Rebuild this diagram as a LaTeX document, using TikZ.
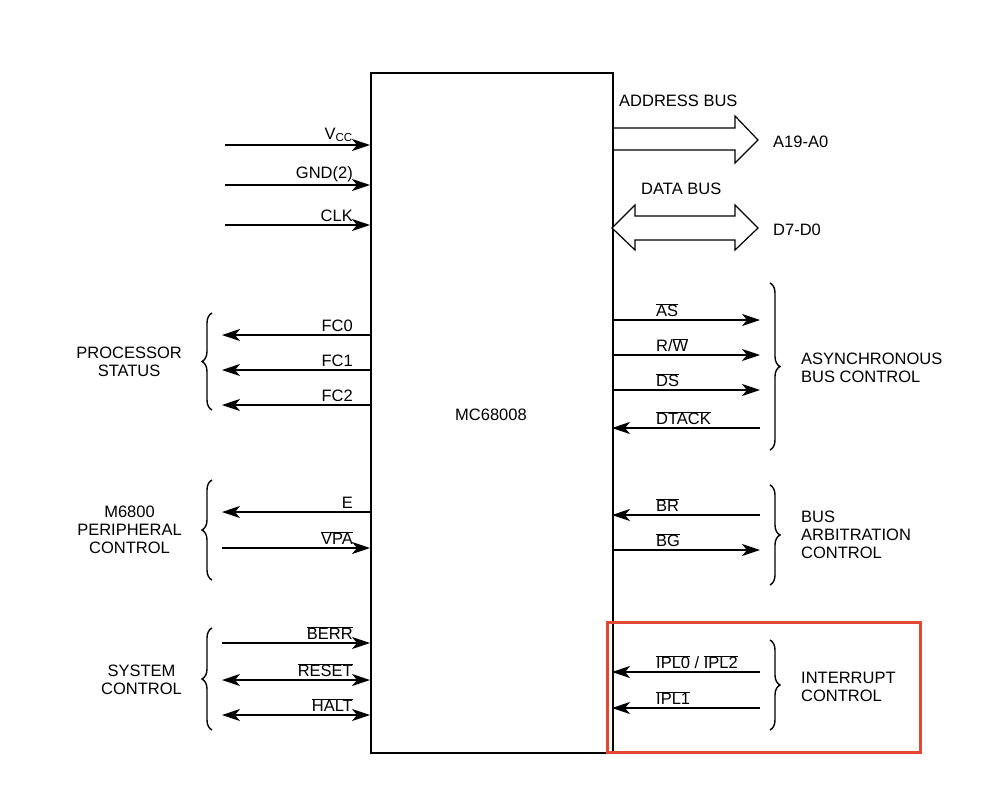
\documentclass[tikz,border=0pt]{standalone}
\usepackage{fontspec}
\setmainfont{Liberation Sans}
\usetikzlibrary{arrows.meta,decorations.pathreplacing}
\newcommand{\ovl}[1]{$\overline{\mbox{#1}}$}
\begin{document}
\begin{tikzpicture}[x=1pt,y=-1pt,
  every node/.style={font=\fontsize{16.5}{18}\selectfont,inner sep=1pt},
  tip/.tip={Stealth[length=18pt,width=12pt,inset=5pt]},
  sig/.style={line width=1.1pt,-tip},
  bsig/.style={line width=1.1pt,tip-tip},
  brL/.style={decorate,decoration={brace,amplitude=10pt},line width=1.4pt},
  lab/.style={align=center,font=\fontsize{16.5}{18}\selectfont}]
\useasboundingbox (0,0) rectangle (996,790);
\node[draw,line width=1.8pt,minimum width=242pt,minimum height=680pt,anchor=north west] (chip) at (370,72) {};
\node at (491,415) {MC68008};
% left inputs
\foreach \y/\t in {145/V\textsubscript{CC},185/GND(2),225/CLK}{
  \coordinate (a) at (225,\y); \coordinate (b) at (370,\y);
  \draw[sig] (a) -- (b); \node[anchor=south east] at (354,\y-2) {\t};}
% processor status
\foreach \y/\t in {335/FC0,370/FC1,405/FC2}{
  \coordinate (a) at (370,\y); \coordinate (b) at (222,\y);
  \draw[sig] (a) -- (b); \node[anchor=south east] at (354,\y-2) {\t};}
\coordinate (p1) at (212,410); \coordinate (p2) at (212,313);
\draw[brL] (p1) -- (p2);
\node[lab,anchor=east] at (183,362) {PROCESSOR\\STATUS};
% M6800
\coordinate (e1) at (370,512); \coordinate (e2) at (222,512);
\draw[sig] (e1) -- (e2); \node[anchor=south east] at (354,510) {E};
\coordinate (v1) at (222,548); \coordinate (v2) at (370,548);
\draw[sig] (v1) -- (v2); \node[anchor=south east] at (354,546) {\ovl{VPA}};
\coordinate (m1) at (212,580); \coordinate (m2) at (212,480);
\draw[brL] (m1) -- (m2);
\node[lab,anchor=east] at (183,530) {M6800\\PERIPHERAL\\CONTROL};
% system control
\coordinate (s1) at (222,643); \coordinate (s2) at (370,643);
\draw[sig] (s1) -- (s2); \node[anchor=south east] at (354,641) {\ovl{BERR}};
\foreach \y/\t in {680/RESET,715/HALT}{
  \coordinate (a) at (222,\y); \coordinate (b) at (370,\y);
  \draw[bsig] (a) -- (b); \node[anchor=south east] at (354,\y-2) {\ovl{\t}};}
\coordinate (q1) at (212,730); \coordinate (q2) at (212,628);
\draw[brL] (q1) -- (q2);
\node[lab,anchor=east] at (183,680) {SYSTEM\\CONTROL};
% address bus
\draw[line width=1.2pt] (612,128) -- (735,128) -- (735,116) -- (758,140) -- (735,163) -- (735,150) -- (612,150);
\node[anchor=south west] at (618,108) {ADDRESS BUS};
\node[anchor=west] (ab) at (772,142) {A19-A0};
% data bus
\draw[line width=1.2pt,fill=white] (612,228) -- (635,205) -- (635,216) -- (735,216) -- (735,205) -- (758,228) -- (735,250) -- (735,240) -- (635,240) -- (635,250) -- cycle;
\node[anchor=south west] at (640,196) {DATA BUS};
\node[anchor=west] (db) at (772,230) {D7-D0};
% async
\foreach \y in {320,355,390}{
  \coordinate (a) at (612,\y); \coordinate (b) at (760,\y);
  \draw[sig] (a) -- (b);}
\node[anchor=south west] at (655,318) {\ovl{AS}};
\node[anchor=south west] at (655,353) {R/\ovl{W}};
\node[anchor=south west] at (655,388) {\ovl{DS}};
\coordinate (d1) at (760,428); \coordinate (d2) at (612,428);
\draw[sig] (d1) -- (d2); \node[anchor=south west] at (655,426) {\ovl{DTACK}};
\coordinate (r1) at (770,283); \coordinate (r2) at (770,450);
\draw[brL] (r1) -- (r2);
\node[lab,anchor=west,align=left] at (800,368) {ASYNCHRONOUS\\BUS CONTROL};
% bus arbitration
\coordinate (b1) at (760,515); \coordinate (b2) at (612,515);
\draw[sig] (b1) -- (b2); \node[anchor=south west] at (655,513) {\ovl{BR}};
\coordinate (g1) at (612,550); \coordinate (g2) at (760,550);
\draw[sig] (g1) -- (g2); \node[anchor=south west] at (655,548) {\ovl{BG}};
\coordinate (t1) at (770,485); \coordinate (t2) at (770,585);
\draw[brL] (t1) -- (t2);
\node[lab,anchor=west,align=left] at (800,535) {BUS\\ARBITRATION\\CONTROL};
% interrupt
\coordinate (i1) at (760,672); \coordinate (i2) at (612,672);
\draw[sig] (i1) -- (i2); \node[anchor=south west] at (655,670) {\ovl{IPL0} / \ovl{IPL2}};
\coordinate (j1) at (760,708); \coordinate (j2) at (612,708);
\draw[sig] (j1) -- (j2); \node[anchor=south west] at (655,706) {\ovl{IPL1}};
\coordinate (k1) at (770,640); \coordinate (k2) at (770,730);
\draw[brL] (k1) -- (k2);
\node[lab,anchor=west,align=left] at (800,687) {INTERRUPT\\CONTROL};
\draw[line width=3pt,color={rgb,255:red,228;green,72;blue,50}] (607,622) rectangle (920,752);
\end{tikzpicture}
\end{document}
